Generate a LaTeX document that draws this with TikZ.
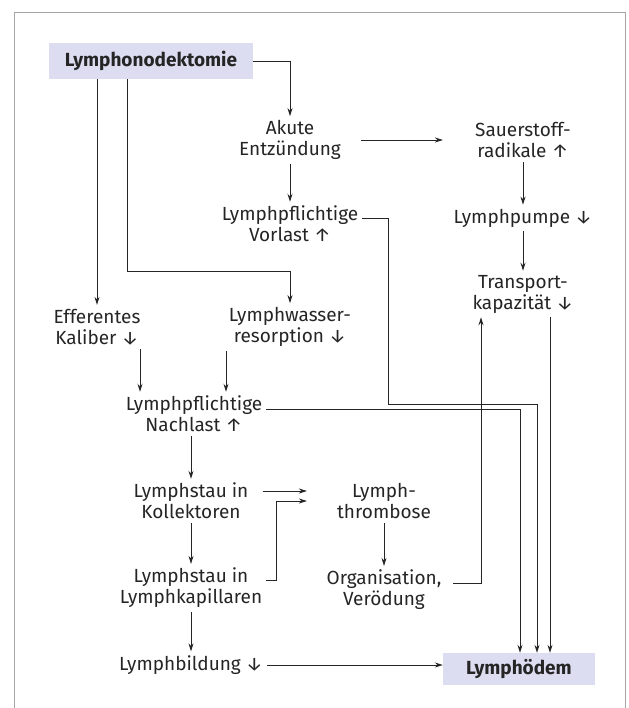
\documentclass[tikz,border=0pt]{standalone}
\usepackage{fontspec}
\setmainfont{Fira Sans}
\usetikzlibrary{arrows.meta}
\definecolor{boxfill}{HTML}{DDDDF2}
\definecolor{ink}{HTML}{252525}
\tikzstyle{txt} = [align=center, inner sep=4pt, text=ink, font=\fontsize{19}{21}\selectfont]
\tikzstyle{hl} = [txt, fill=boxfill, font=\fontsize{19}{21}\selectfont\bfseries]
\tikzstyle{arr} = [draw=ink, line width=0.9pt, -{Stealth[length=8pt, width=5pt]}]

\begin{document}
\begin{tikzpicture}[x=1pt, y=-1pt]
    \useasboundingbox (0,0) rectangle (628,708);
    %\draw[help lines] (0,0) grid (628,708);
    \draw[gray!70, line width=0.8pt] (14,720) -- (14,12) -- (625,12) -- (625,720);

    \node[hl, minimum width=204pt, minimum height=36pt] (lnd) at (151,61) {Lymphonodektomie};
    \node[txt] (akute) at (290,140) {Akute\\Entzündung};
    \node[txt] (sauer) at (523,140) {Sauerstoff-\\radikale ↑};
    \node[txt] (vorlast) at (290,224) {Lymphpflichtige\\Vorlast ↑};
    \node[txt] (pumpe) at (523,218) {Lymphpumpe ↓};
    \node[txt] (transport) at (523,294) {Transport-\\kapazität ↓};
    \node[txt] (efferent) at (97,327) {Efferentes\\Kaliber ↓};
    \node[txt] (wasser) at (290,327) {Lymphwasser-\\resorption ↓};
    \node[txt] (nachlast) at (194,414) {Lymphpflichtige\\Nachlast ↑};
    \node[txt] (koll) at (191,501) {Lymphstau in\\Kollektoren};
    \node[txt] (thromb) at (384,501) {Lymph-\\thrombose};
    \node[txt] (kapill) at (191,588) {Lymphstau in\\Lymphkapillaren};
    \node[txt] (organ) at (384,590) {Organisation,\\Verödung};
    \node[txt] (bildung) at (191,665) {Lymphbildung ↓};
    \node[hl, minimum width=152pt, minimum height=32pt] (oedem) at (519,669) {Lymphödem};

    \coordinate (bend1) at (127,271);
    \coordinate (bend2) at (388,404);
    \coordinate (bend3) at (481,0);
    \coordinate (oedemR) at ([xshift=31pt]oedem.north);

    \draw[arr] (lnd.east) -| (akute.north);
    \draw[arr] (lnd.south -| efferent.north) -- (efferent.north);
    \draw[arr] (lnd.south -| bend1) -- (bend1) -| (wasser.north);
    \draw[arr, shorten <=16pt, shorten >=28pt] (akute.east) -- (sauer.west);
    \draw[arr] (akute) -- (vorlast);
    \draw[arr] (sauer) -- (pumpe);
    \draw[arr] (pumpe) -- (transport);
    \draw[arr] ([yshift=6pt]vorlast.east) -| (bend2) -| ([xshift=18pt]oedem.north);
    \draw[arr] ([yshift=5pt]nachlast.east) -| ([xshift=1pt]oedem.north);
    \draw[arr] (transport.south -| oedemR) -- (oedemR);
    \draw[arr, shorten <=8pt] ([yshift=7pt]organ.east) -| (transport.south -| bend3);
    \draw[arr] (efferent.south -| 140,0) -- (nachlast.north -| 140,0);
    \draw[arr] (wasser.south -| 226,0) -- (nachlast.north -| 226,0);
    \draw[arr] (nachlast.south -| koll.north) -- (koll.north);
    \draw[arr, shorten <=10pt, shorten >=26pt] ([yshift=10pt]koll.east) -- ([yshift=10pt]koll.east -| thromb.west);
    \draw[arr, shorten >=26pt] ([yshift=8pt]kapill.east) -- ++(10,0) |- (thromb.west);
    \draw[arr] (koll) -- (kapill);
    \draw[arr] (kapill) -- (bildung);
    \draw[arr] (thromb) -- (organ);
    \draw[arr] (bildung.east) -- (bildung.east -| oedem.west);
\end{tikzpicture}
\end{document}
